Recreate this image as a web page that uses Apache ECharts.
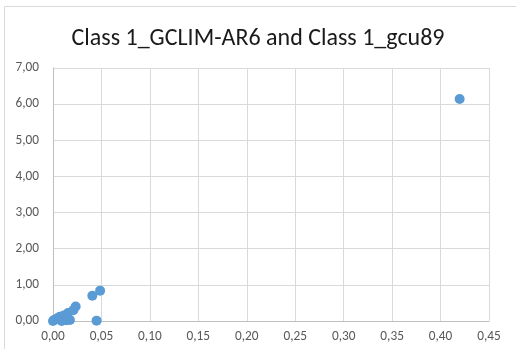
<!DOCTYPE html>
<html>
<head>
<meta charset="utf-8">
<script src="https://cdn.jsdelivr.net/npm/echarts@6/dist/echarts.min.js"></script>
<style>
  html, body { margin: 0; padding: 0; background: #fff; }
  #chart { width: 516px; height: 349px; }
</style>
</head>
<body>
<div id="chart"></div>
<script>
// Class 1 pairs: GCLIM-AR6 (x) against gcu89 (y)
const gclimAr6 = [0.000, 0.001, 0.003, 0.005, 0.007, 0.009, 0.011, 0.012, 0.014, 0.0155, 0.0175, 0.021, 0.0234, 0.0406, 0.045, 0.0486, 0.4197];
const gcu89    = [0.00,  0.03,  0.05,  0.08,  0.12,  0.00,  0.15,  0.08,  0.02,  0.22,   0.03,   0.30,  0.40,   0.70,   0.01,  0.84,   6.14];

const titleText = 'Class 1_GCLIM-AR6 and Class 1_gcu89';
const xTicks = { min: 0, max: 0.45, interval: 0.05 };
const yTicks = { min: 0, max: 7, interval: 1 };

const points = gclimAr6.map((x, i) => [x, gcu89[i]]);
const commaFmt = v => v.toFixed(2).replace('.', ',');
const font = 'Carlito, Calibri, "Open Sans", sans-serif';

const chart = echarts.init(document.getElementById('chart'), null, { renderer: 'canvas' });
chart.setOption({
  animation: false,
  backgroundColor: '#ffffff',
  graphic: [{
    type: 'rect',
    shape: { x: 4.5, y: 6.5, width: 530, height: 360 },
    style: { fill: 'none', stroke: '#d9d9d9', lineWidth: 1 },
    silent: true
  }],
  title: {
    text: titleText,
    left: 'center',
    top: 22,
    textStyle: { fontFamily: font, fontSize: 24, fontWeight: 'normal', color: '#1a1a1a' }
  },
  grid: { left: 53, right: 27, top: 68, bottom: 28, containLabel: false },
  xAxis: {
    type: 'value',
    min: xTicks.min, max: xTicks.max, interval: xTicks.interval,
    axisLine: { show: true, lineStyle: { color: '#bfbfbf', width: 1 } },
    axisTick: { show: false },
    splitLine: { show: true, lineStyle: { color: '#d9d9d9', width: 1 } },
    axisLabel: { formatter: commaFmt, color: '#595959', fontSize: 13.3, margin: 9, fontFamily: font }
  },
  yAxis: {
    type: 'value',
    min: yTicks.min, max: yTicks.max, interval: yTicks.interval,
    axisLine: { show: true, lineStyle: { color: '#bfbfbf', width: 1 } },
    axisTick: { show: false },
    splitLine: { show: true, lineStyle: { color: '#d9d9d9', width: 1 } },
    axisLabel: { formatter: commaFmt, color: '#595959', fontSize: 13.3, margin: 14, fontFamily: font }
  },
  series: [{
    type: 'scatter',
    data: points,
    symbol: 'circle',
    symbolSize: 10,
    itemStyle: { color: '#5b9bd5', opacity: 1 },
    clip: false
  }]
});
</script>
</body>
</html>
